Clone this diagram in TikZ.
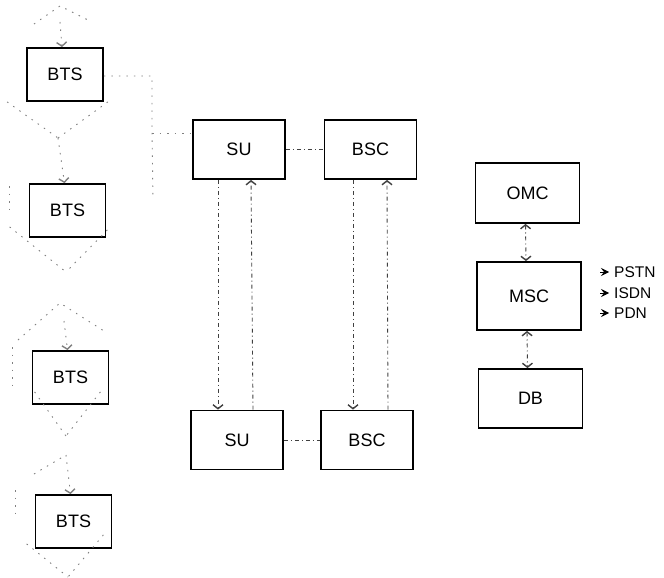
\documentclass[tikz,border=0pt]{standalone}
\usepackage{fontspec}
\setmainfont{Liberation Sans}
\usetikzlibrary{arrows.meta,calc}
\begin{document}
\begin{tikzpicture}[x=1pt,y=-1pt,
  box/.style={draw=black,line width=1.8pt,minimum width=76pt,minimum height=53pt,inner sep=0pt,font=\fontsize{18}{18}\selectfont},
  bigbox/.style={box,minimum width=92pt,minimum height=59pt},
  mbox/.style={box,minimum width=104pt,minimum height=60pt},
  link/.style={draw=black!75,line width=0.9pt,dash pattern=on 4pt off 3pt on 1pt off 3pt},
  faint/.style={draw=black!50,line width=0.9pt,dash pattern=on 1.5pt off 6pt},
  tip/.style={-{Straight Barb[length=4pt,width=10pt,line width=1.4pt]}},
  bitip/.style={{Straight Barb[length=4pt,width=10pt,line width=1.4pt]}-{Straight Barb[length=4pt,width=10pt,line width=1.4pt]}},
  ext/.style={font=\fontsize{15.5}{15.5}\selectfont,anchor=west,inner sep=0pt},
  netmark/.style={-{Stealth[length=8pt,width=8pt,inset=3pt]},draw=black,line width=0.6pt}
]
\useasboundingbox (0,0) rectangle (664,578);

% BTS column
\node[box] (bts1) at (65,74.5) {BTS};
\node[box] (bts2) at (67.5,210.5) {BTS};
\node[box] (bts3) at (70.5,377.5) {BTS};
\node[box] (bts4) at (73.5,521.5) {BTS};

% SU / BSC
\node[bigbox] (su1) at (239,149.5) {SU};
\node[bigbox] (bsc1) at (370.5,149.5) {BSC};
\node[bigbox] (su2) at (237,440) {SU};
\node[bigbox] (bsc2) at (367,440) {BSC};

% OMC / MSC / DB
\node[mbox] (omc) at (527.5,193) {OMC};
\node[mbox,minimum height=68pt] (msc) at (529,296) {MSC};
\node[mbox,minimum height=59pt] (db) at (530.5,398.5) {DB};

% external networks
\node[ext] (pstn) at (614,272) {PSTN};
\node[ext] (isdn) at (614,293) {ISDN};
\node[ext] (pdn)  at (614,313) {PDN};
\foreach \n in {pstn,isdn,pdn}{
  \draw[netmark] ([xshift=-14pt]\n.west) -- ([xshift=-5pt]\n.west);
}

% SU / BSC links
\draw[link] (su1.east) -- (bsc1.west);
\draw[link] (su2.east) -- (bsc2.west);
\draw[link,tip] ([xshift=-21pt]su1.south) -- ([xshift=-19pt]su2.north);
\draw[link,tip] ([xshift=16pt]su2.north) -- ([xshift=12pt]su1.south);
\draw[link,tip] ([xshift=21pt]bsc2.north) -- ([xshift=16.5pt]bsc1.south);
\draw[link,tip] ([xshift=-17.5pt]bsc1.south) -- ([xshift=-14pt]bsc2.north);

% OMC / MSC / DB links
\draw[link,bitip] ([xshift=-2pt]omc.south) -- ([xshift=-3pt]msc.north);
\draw[link,bitip] ([xshift=-2pt]msc.south) -- ([xshift=-3pt]db.north);

% faint bus from BTS to SU
\coordinate (b1) at (152,76);
\coordinate (b2) at (152,133);
\coordinate (b3) at (153,200);
\draw[faint] (bts1.east |- b1) -- (b1) -- (b2) -- (b3);
\draw[faint] (b2) -- (b2 -| su1.west);

% BTS dashed links
\coordinate (t1l) at (34,24);
\coordinate (t1p) at (60,6);
\coordinate (t1r) at (92,22);
\draw[faint] (t1l) -- (t1p) -- (t1r);
\draw[faint,tip] ($(t1p)+(0,16)$) -- ([xshift=-3pt]bts1.north);
\coordinate (x1) at (58,138);
\draw[faint] ([xshift=-19pt]bts1.south west) -- (x1);
\draw[faint] ([xshift=4pt]bts1.south east) -- (x1);
\draw[faint,tip] (x1) -- ([xshift=-3pt]bts2.north);
\coordinate (l2a) at (9,186);
\coordinate (l2b) at (9,214);
\draw[faint] (l2a) -- (l2b);
\coordinate (v2) at (66,272);
\draw[faint] ([xshift=-19pt,yshift=11pt]bts2.south west) -- (v2);
\draw[faint] ([xshift=1pt,yshift=8pt]bts2.south east) -- (v2);

\coordinate (t3l) at (18,340);
\coordinate (t3p) at (60,303);
\coordinate (t3r) at (104,331);
\draw[faint] (t3l) -- (t3p) -- (t3r);
\draw[faint,tip] ($(t3p)+(4,18)$) -- ([xshift=-3pt]bts3.north);
\coordinate (l3a) at (12,347);
\coordinate (l3b) at (12,390);
\draw[faint] (l3a) -- (l3b);
\coordinate (x3) at (66,436);
\draw[faint] ([xshift=3pt,yshift=13pt]bts3.south west) -- (x3);
\draw[faint] ([xshift=-9pt,yshift=13pt]bts3.south east) -- (x3);
\coordinate (t4l) at (34,474);
\coordinate (t4p) at (66,455);
\draw[faint] (t4l) -- (t4p);
\draw[faint,tip] (t4p) -- ([xshift=-3pt]bts4.north);
\coordinate (l4a) at (15,490);
\coordinate (l4b) at (15,520);
\draw[faint] (l4a) -- (l4b);
\coordinate (v4) at (68,577);
\draw[faint] ([xshift=-8pt,yshift=5pt]bts4.south west) -- (v4);
\draw[faint] ([xshift=-9pt,yshift=14pt]bts4.south east) -- (v4);
\end{tikzpicture}
\end{document}
